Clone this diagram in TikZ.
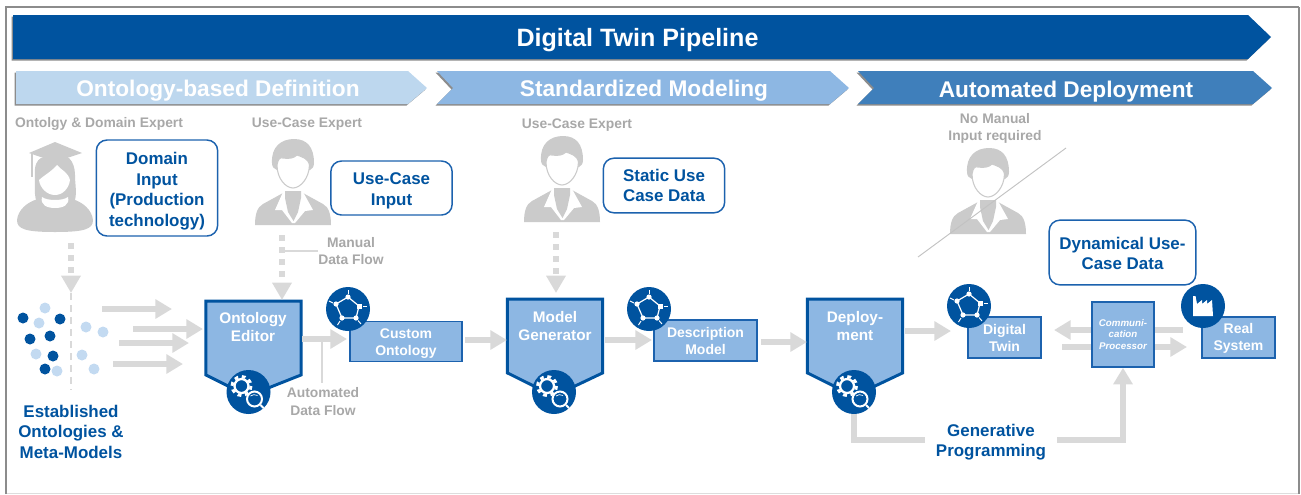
\documentclass[tikz,border=0pt]{standalone}
\usepackage{fontspec}
\setmainfont{Liberation Sans}
\usetikzlibrary{arrows.meta}
\definecolor{darkblue}{HTML}{00539F}
\definecolor{midblue}{HTML}{8DB7E3}
\definecolor{lightblue}{HTML}{BDD7EE}
\definecolor{stepblue}{HTML}{3F7FBB}
\definecolor{boxline}{HTML}{1C62AE}
\definecolor{dotblue}{HTML}{C3DAF1}
\definecolor{arrowgray}{HTML}{D9D9D9}
\definecolor{persongray}{HTML}{CBCBCB}
\definecolor{labelgray}{HTML}{A8A8A8}
\definecolor{shadegray}{HTML}{8C8C8C}
\newcommand{\firstline}[1]{\rule{0pt}{#1pt}}
\tikzset{
    flowarrow/.style={draw=arrowgray,line width=5pt,-{Triangle[length=12.5pt,width=14pt]}},
    flowline/.style={draw=arrowgray,line width=5pt},
    manualarrow/.style={draw=arrowgray,line width=4.5pt,dash pattern=on 4.5pt off 4.5pt,-{Triangle[length=13pt,width=14pt]}},
    thinline/.style={draw=arrowgray,line width=1pt},
    callout/.style={draw=boxline,line width=1.1pt,fill=white,rounded corners=8pt,text=darkblue,align=center,inner sep=0pt,font=\bfseries\fontsize{12.7}{15.4}\selectfont},
    bluelabel/.style={text=darkblue,align=center,inner sep=0pt,font=\bfseries\fontsize{12.7}{15.4}\selectfont},
    graylabel/.style={text=labelgray,align=center,inner sep=0pt,font=\bfseries\fontsize{10.4}{12.8}\selectfont},
    modelbox/.style={draw=boxline,line width=1.3pt,fill=midblue,text=white,align=center,inner sep=0pt,font=\bfseries\fontsize{10.5}{12.8}\selectfont},
    shieldbox/.style={inner sep=0pt,minimum width=71pt,minimum height=55pt},
    shieldline/.style={draw=darkblue,line width=2.2pt,fill=midblue,line join=miter},
    shieldtext/.style={text=white,align=center,inner sep=0pt,font=\bfseries\fontsize{11.5}{14.2}\selectfont},
    steptext/.style={text=white,inner sep=0pt,font=\bfseries\fontsize{17}{20}\selectfont},
    personicon/.pic={
        \fill[persongray] (-38,0) .. controls (-38,-10) and (-36,-18) .. (-30,-21) -- (-10,-32) -- (10,-32) -- (30,-21) .. controls (36,-18) and (38,-10) .. (38,0) -- cycle;
        \fill[white] (-10,-33) -- (-18,-15) -- (-11,-15) -- (-1,-2) -- (2,-2) -- (12,-14) -- (20,-15) -- (10,-33) -- cycle;
        \fill[persongray] (-8,-34) -- (8,-34) -- (8,-27) -- (5,-13) -- (0.5,-4) -- (-5,-13) -- (-8,-27) -- cycle;
        \fill[persongray] (-21,-62) .. controls (-22,-78) and (-12,-86) .. (1,-86) .. controls (14,-86) and (21,-78) .. (21,-62) .. controls (21,-58) and (19,-56) .. (17,-55) -- (-16,-55) .. controls (-19,-56) and (-21,-58) .. (-21,-62) -- cycle;
        \filldraw[fill=white,draw=persongray,line width=0.8pt] (-16,-60) .. controls (-15,-66) and (-13,-68) .. (-10,-67) .. controls (-4,-66) and (1,-67) .. (4,-70) .. controls (9,-68) and (15,-67) .. (16.5,-60) .. controls (16,-46) and (7,-37) .. (0,-37) .. controls (-7,-37) and (-16,-46) .. (-16,-60) -- cycle;
    },
    gradicon/.pic={
        \fill[persongray] (-20,-57) .. controls (-21,-66) and (-18,-72) .. (-14,-74) -- (14,-74) .. controls (18,-70) and (20,-64) .. (20,-57) .. controls (20,-48) and (22,-40) .. (20,-32) -- (-19,-32) .. controls (-21,-40) and (-20,-48) .. (-20,-57) -- cycle;
        \fill[persongray] (0,-90) -- (27,-79) -- (0,-70) -- (-26,-79) -- cycle;
        \draw[persongray,line width=0.9pt] (-23,-78) -- (-23,-55);
        \fill[persongray] (-38,-12) .. controls (-37,-22) and (-28,-30) .. (-17,-33) -- (17,-33) .. controls (28,-30) and (37,-22) .. (38,-12) .. controls (38,-3) and (30,0) .. (0,0) .. controls (-30,0) and (-38,-3) .. (-38,-12) -- cycle;
        \fill[white] (-13,-35) .. controls (-8,-31) and (8,-31) .. (13,-35) .. controls (15,-27) and (8,-24) .. (0,-24) .. controls (-8,-24) and (-15,-27) .. (-13,-35) -- cycle;
        \fill[white] (-16,-52) .. controls (-12,-56) and (-4,-60) .. (2,-67) .. controls (6,-62) and (13,-60) .. (15,-52) .. controls (14,-44) and (8,-37) .. (0,-37) .. controls (-8,-37) and (-15,-44) .. (-16,-52) -- cycle;
    },
    gearicon/.pic={
        \fill[darkblue] (0,0) circle (22);
        \draw[white,line width=1.7pt] (-7,-6) circle (7);
        \draw[white,line width=2.2pt,dash pattern=on 2.8pt off 2.8pt] (-7,-6) circle (9.5);
        \filldraw[fill=darkblue,draw=white,line width=1.5pt] (6,7) circle (7.5);
        \draw[white,line width=0.5pt] (2,4) .. controls (3.5,2.5) and (7,2) .. (9,3.5);
        \draw[white,line width=1.5pt] (12,13) -- (15,16);
    },
    networkicon/.pic={
        \fill[darkblue] (0,0) circle (22);
        \draw[white,line width=0.9pt] (0,-12) -- (11,-3) -- (8,9) -- (-6,9) -- (-12,-5) -- cycle;
        \fill[white] (0,-12) circle (2.6);
        \fill[white] (8.5,-5.5) rectangle (13.5,-0.5);
        \fill[white] (8,9) circle (2.6);
        \fill[white] (-6,9) circle (2.6);
        \fill[white] (-12,-5) circle (2.6);
        \draw[white,line width=0.7pt] (0,-15) -- (0,-19);
        \draw[white,line width=0.7pt] (15,-3) -- (19,-3);
        \draw[white,line width=0.7pt] (10,11.5) -- (13,15);
        \draw[white,line width=0.7pt] (-8,12) -- (-10.5,16);
        \draw[white,line width=0.7pt] (-15,-6) -- (-19,-8);
    },
    factoryicon/.pic={
        \fill[darkblue] (0,0) circle (22);
        \fill[white] (-10,10) -- (-10,-10) -- (-7.5,-10) -- (-6,-2) -- (-1,-6) -- (-1,-2) -- (4,-6) -- (4,-2) -- (9,-6) -- (10,10) -- cycle;
    }
}
\begin{document}
\begin{tikzpicture}[x=0.75pt,y=-0.75pt]
    \useasboundingbox (0,0) rectangle (1301,494);
    \draw[shadegray!30,line width=0.6pt] (6,493) -- (1299,493);
    \draw[shadegray,line width=0.9pt] (6,494) -- (6,7) -- (1299,7);
    \draw[shadegray,line width=1.4pt] (1299,7) -- (1299,494);

    \fill[shadegray,shift={(-1.5,1.5)}] (13,15) -- (1248,15) -- (1271,37) -- (1248,59) -- (13,59) -- cycle;
    \fill[darkblue] (13,15) -- (1248,15) -- (1271,37) -- (1248,59) -- (13,59) -- cycle;
    \node[text=white,inner sep=0pt,font=\bfseries\fontsize{18.8}{22}\selectfont] (pipeline) at (637.5,40) {Digital Twin Pipeline};

    \fill[shadegray,shift={(-1.5,1.5)}] (16,71) -- (408,71) -- (427,88) -- (408,104) -- (16,104) -- cycle;
    \fill[lightblue] (16,71) -- (408,71) -- (427,88) -- (408,104) -- (16,104) -- cycle;
    \node[steptext] (definition) at (218,91) {Ontology-based Definition};
    \fill[shadegray,shift={(-1.5,1.5)}] (437,71) -- (830,71) -- (849,88) -- (830,104) -- (437,104) -- (453,88) -- cycle;
    \fill[midblue] (437,71) -- (830,71) -- (849,88) -- (830,104) -- (437,104) -- (453,88) -- cycle;
    \node[steptext] (modeling) at (644,91) {Standardized Modeling};
    \fill[shadegray,shift={(-1.5,1.5)}] (858,71) -- (1253,71) -- (1272,88) -- (1253,104) -- (858,104) -- (874,88) -- cycle;
    \fill[stepblue] (858,71) -- (1253,71) -- (1272,88) -- (1253,104) -- (858,104) -- (874,88) -- cycle;
    \node[steptext] (deployment) at (1066,92) {Automated Deployment};

    \node[graylabel] (expertone) at (99,124) {Ontolgy \& Domain Expert};
    \node[graylabel] (experttwo) at (307,124) {Use-Case Expert};
    \node[graylabel] (expertthree) at (577,125) {Use-Case Expert};
    \node[graylabel] (noinput) at (995,128.5) {No Manual\\Input required};

    \pic at (55,232) {gradicon};
    \pic at (293,225) {personicon};
    \pic at (562,222) {personicon};
    \pic at (988,234) {personicon};
    \coordinate (strikeA) at (918,257);
    \coordinate (strikeB) at (1066,148);
    \draw[draw=labelgray!70,line width=0.7pt] (strikeA) -- (strikeB);

    \node[callout,minimum width=91pt,minimum height=72pt] (domain) at (157,188) {\firstline{13.6}Domain\\Input\\(Production\\technology)};
    \node[callout,minimum width=91pt,minimum height=40.5pt] (usecase) at (391.5,188) {\firstline{12.9}Use-Case\\Input};
    \node[callout,minimum width=91pt,minimum height=41pt] (staticdata) at (664,185.5) {Static Use\\Case Data};
    \node[callout,minimum width=110pt,minimum height=48.5pt] (dynamicdata) at (1122.5,252.5) {\firstline{10.6}Dynamical Use-\\Case Data};

    \coordinate (dropone) at (71,243);
    \coordinate (dropend) at (71,293);
    \coordinate (droptwo) at (282,235);
    \coordinate (dropthree) at (556,232);
    \draw[manualarrow] (dropone) -- (dropend);
    \draw[thinline,dash pattern=on 5pt off 4pt] (dropend) -- (71,390);

    \fill[darkblue] (23,318) circle (5.5);
    \fill[darkblue] (60,319) circle (5.5);
    \fill[darkblue] (30,339) circle (5.5);
    \fill[darkblue] (50,336) circle (5.5);
    \fill[darkblue] (53,356) circle (5.5);
    \fill[darkblue] (45,369) circle (5.5);
    \fill[dotblue] (45,308) circle (5.5);
    \fill[dotblue] (39,323) circle (5.5);
    \fill[dotblue] (36,354) circle (5.5);
    \fill[dotblue] (57,371) circle (5.5);
    \fill[dotblue] (86,327) circle (5.5);
    \fill[dotblue] (103,332) circle (5.5);
    \fill[dotblue] (82,355) circle (5.5);
    \fill[dotblue] (94,369) circle (5.5);

    \draw[flowarrow] (102,309) -- (172,309);
    \draw[flowarrow] (133,329) -- (203,329);
    \draw[flowarrow] (119,343) -- (189,343);
    \draw[flowarrow] (113,364) -- (183,364);
    \node[bluelabel] (established) at (71,431.5) {Established\\Ontologies \&\\Meta-Models};

    \node[shieldbox] (editor) at (253.5,338) {};
    \draw[shieldline] (editor.north west) -- (editor.north east) -- (editor.south east) -- (248,396) -- (editor.south west) -- cycle;
    \node[shieldtext] (editortext) at (253,327) {Ontology\\Editor};
    \pic at (248.5,392) {gearicon};
    \node[shieldbox] (generator) at (555,336) {};
    \draw[shieldline] (generator.north west) -- (generator.north east) -- (generator.south east) -- (554,396) -- (generator.south west) -- cycle;
    \node[shieldtext] (generatortext) at (555,326) {Model\\Generator};
    \pic at (554,392) {gearicon};
    \node[shieldbox] (deploy) at (855,336) {};
    \draw[shieldline] (deploy.north west) -- (deploy.north east) -- (deploy.south east) -- (854,396) -- (deploy.south west) -- cycle;
    \node[shieldtext] (deploytext) at (855,326) {Deploy-\\ment};
    \pic at (854,392) {gearicon};

    \node[modelbox,minimum width=84pt,minimum height=30pt] (custom) at (406,341.5) {\firstline{10.5}Custom\\Ontology};
    \pic at (348,309) {networkicon};
    \node[modelbox,minimum width=77pt,minimum height=30.5pt] (description) at (705.5,340.5) {\firstline{9}Description\\Model};
    \pic at (649,309) {networkicon};
    \node[modelbox,minimum width=55pt,minimum height=30.5pt] (twin) at (1004.5,337.5) {Digital\\Twin};
    \pic at (969,306) {networkicon};
    \node[modelbox,minimum width=55pt,minimum height=30.5pt] (realsystem) at (1238.5,337.5) {\firstline{9}Real\\System};
    \coordinate (factorypos) at (1203,306);
    \pic at (factorypos) {factoryicon};

    \draw[manualarrow] (droptwo) -- (282,300);
    \draw[manualarrow] (dropthree) -- (556,293);
    \draw[flowarrow] (302,339) -- (347,339);
    \draw[flowarrow] (465,340) -- (507,340);
    \draw[flowarrow] (605,340) -- (652,340);
    \draw[flowarrow] (761,342) -- (807,342);
    \draw[flowarrow] (905,331) -- (951,331);

    \draw[flowarrow] (1183,330) -- (1054,330);
    \draw[flowarrow] (1062,347) -- (1187,347);
    \node[modelbox,minimum width=46.5pt,minimum height=48.5pt,font=\bfseries\itshape\fontsize{7.3}{8.8}\selectfont] (processor) at (1123,334.5) {Communi-\\cation\\Processor};

    \node[bluelabel] (generative) at (991,442) {Generative\\Programming};
    \draw[flowline] (854,414) -- (854,440) -- (925,440);
    \draw[flowarrow] (1057,440) -- (1123,440) -- (processor.south);

    \draw[thinline] (284,251) -- (323,251);
    \node[graylabel,fill=white,inner ysep=0pt] (manualflow) at (351,251.5) {Manual\\Data Flow};
    \draw[thinline] (322,342) -- (322,383);
    \node[graylabel] (autoflow) at (323,401.5) {Automated\\Data Flow};
\end{tikzpicture}
\end{document}
